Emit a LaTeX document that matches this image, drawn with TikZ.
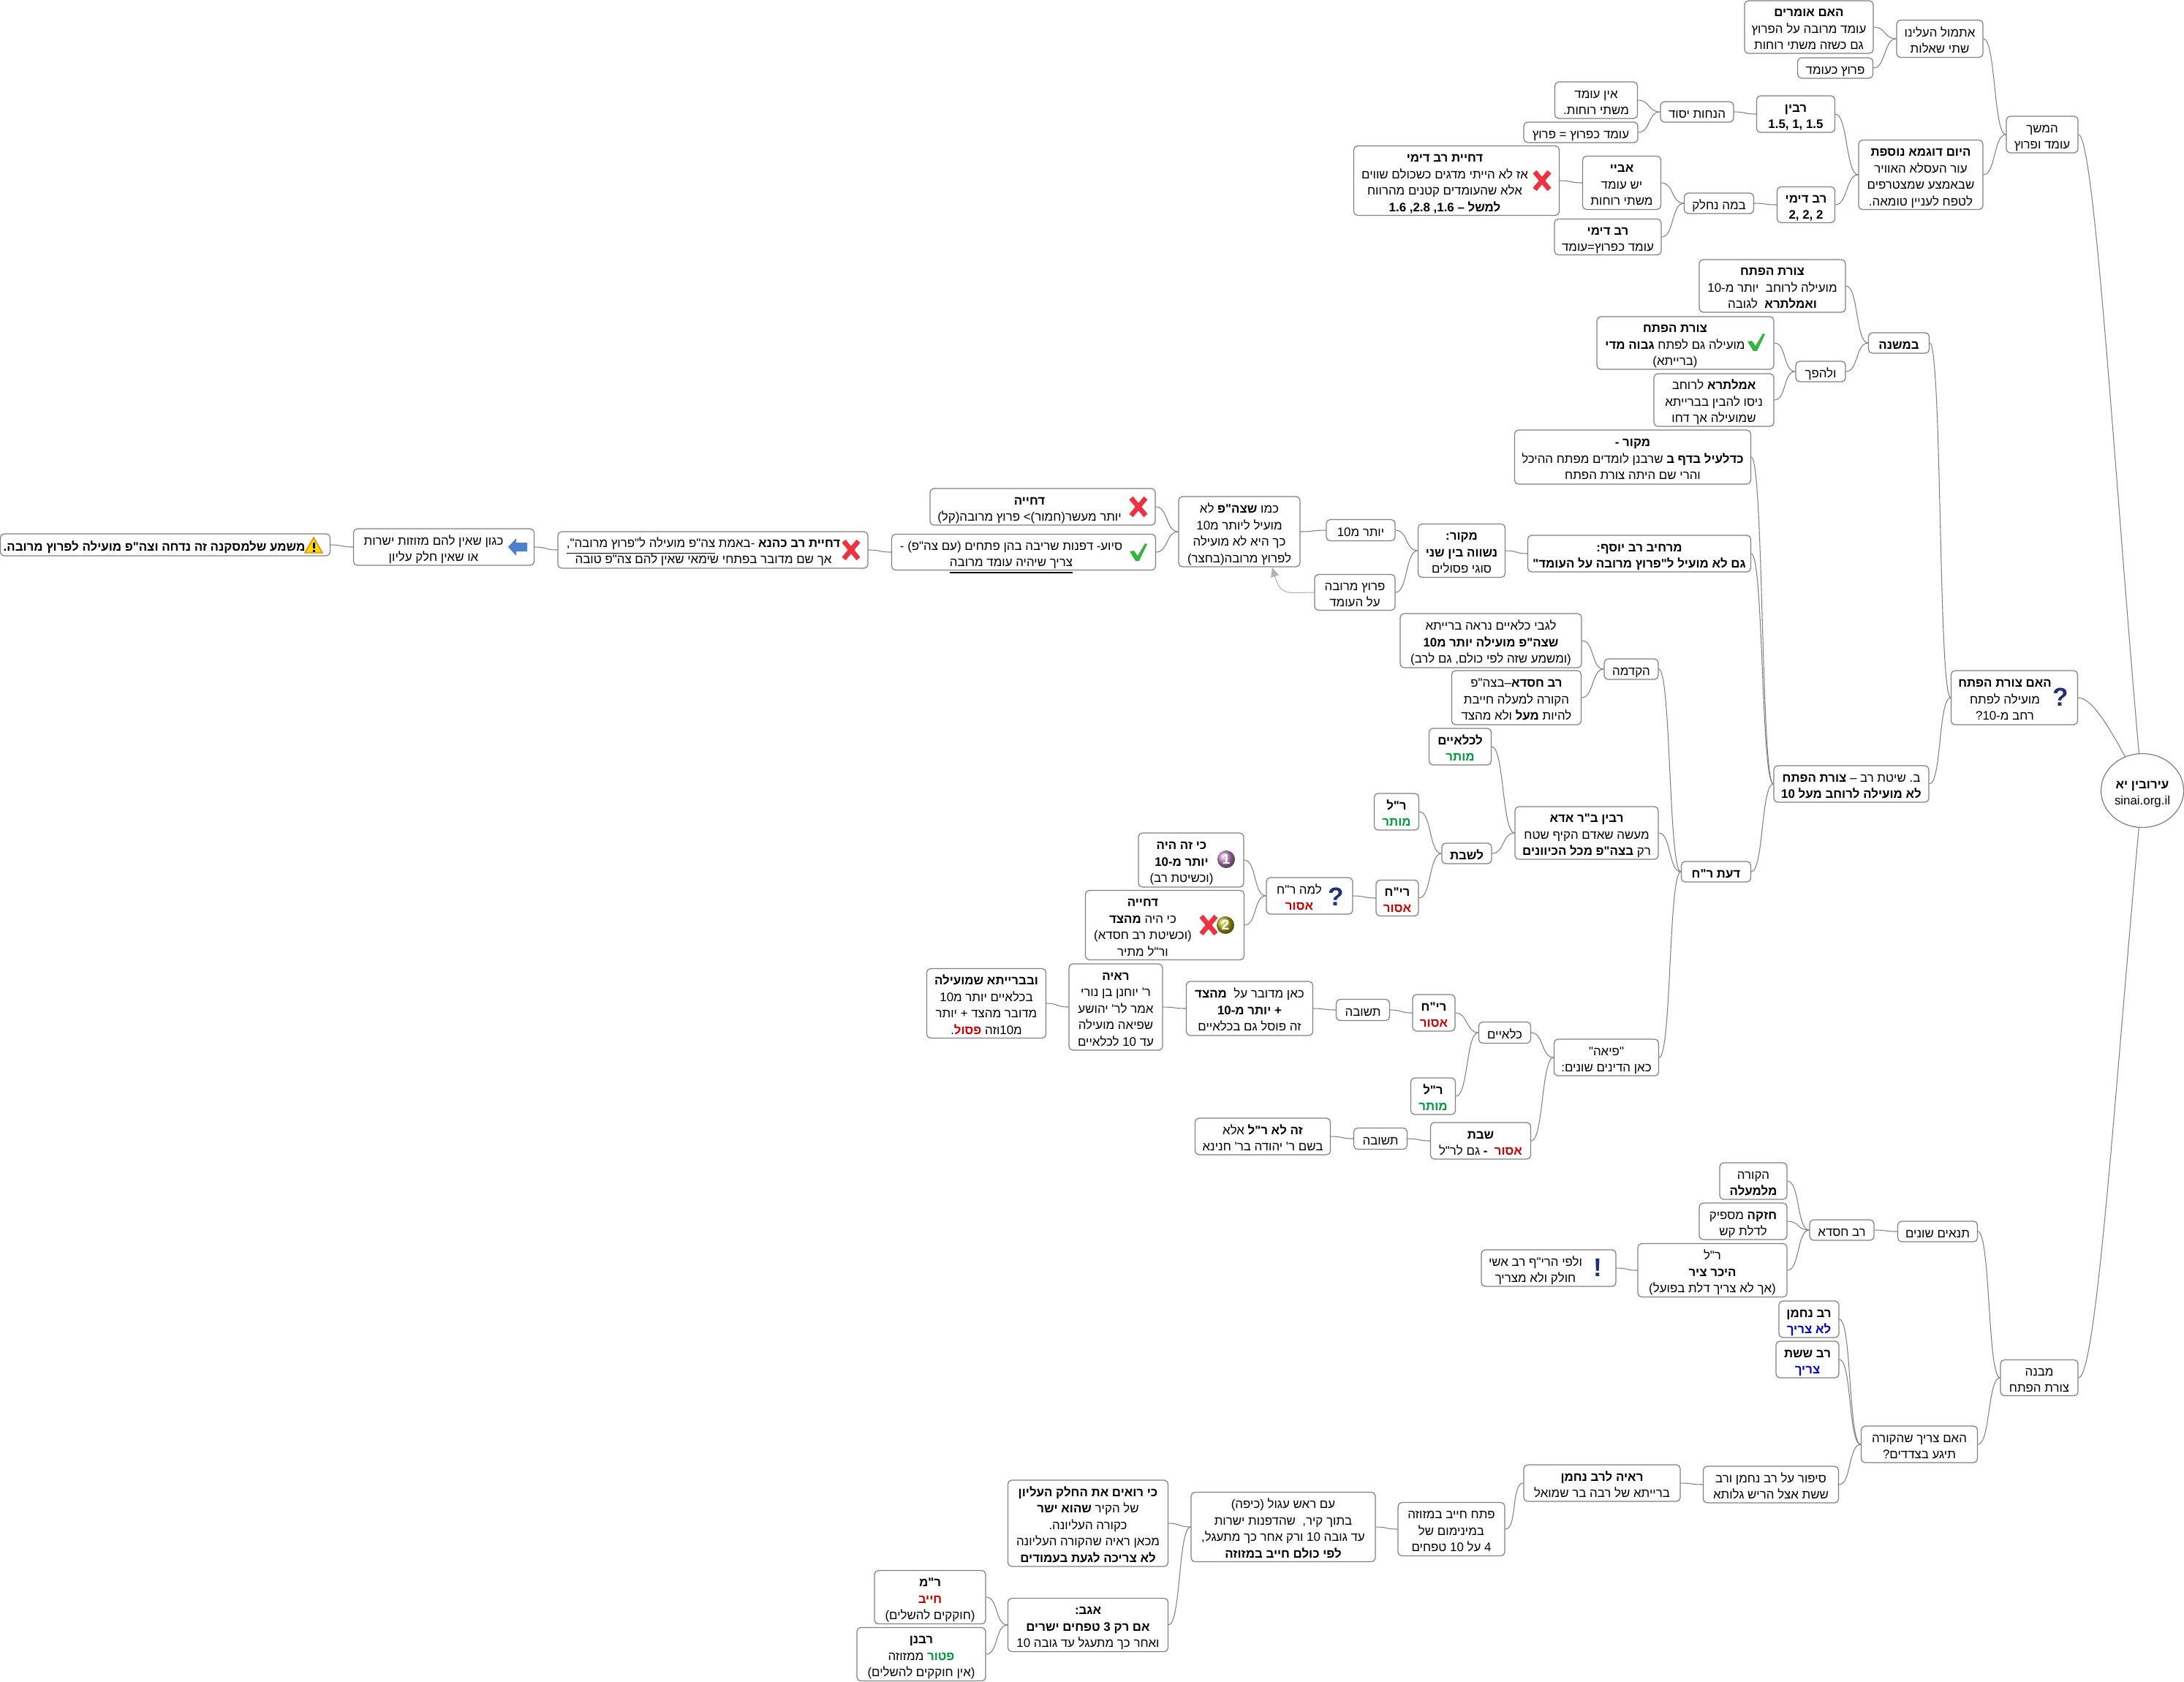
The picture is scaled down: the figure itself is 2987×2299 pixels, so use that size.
\documentclass[tikz,border=0pt]{standalone}
\usepackage{fontspec}
\usetikzlibrary{shapes.geometric,arrows.meta}
\newfontfamily\hebfont[Script=Hebrew]{Liberation Sans}
\newfontfamily\hebred[Script=Hebrew,Color=CC0000]{Liberation Sans}
\newfontfamily\hebgreen[Script=Hebrew,Color=009A3D]{Liberation Sans}
\newfontfamily\hebblue[Script=Hebrew,Color=0000CC]{Liberation Sans}
\TeXXeTstate=1
\frenchspacing
\newcommand{\heb}[1]{\rule[-1.4pt]{0pt}{5.6pt}\smash{\lower1pt\hbox{\beginR #1\endR}}}
\newcommand{\num}[1]{\beginL #1\endL}
\newcommand{\under}[1]{\underline{\beginR #1\endR}}
\newcommand{\tinted}[2]{{#1\bfseries #2}}
\definecolor{linegray}{HTML}{808080}
\definecolor{markblue}{HTML}{1F2F7A}
\definecolor{crossred}{HTML}{EE3340}
\definecolor{tickgreen}{HTML}{35B540}
\definecolor{arrowblue}{HTML}{4F7FD0}
\tikzset{
  plain/.style={inner sep=0pt,align=center,font=\hebfont\fontsize{4.8}{6.4}\selectfont},
  topic/.style={plain,draw=linegray,line width=0.35pt,rounded corners=1.5pt,fill=white},
  wh/.style 2 args={minimum width=#1*0.01cm,minimum height=#2*0.01cm},
  link/.style={draw=linegray,line width=0.3pt},
  sway/.style={out=0,in=180,distance=0.17cm},
  glyph/.style={inner sep=0pt,text=markblue,font=\hebfont\bfseries\fontsize{10}{10}\selectfont},
  numdisc/.style={circle,inner sep=0pt,minimum size=0.24cm,text=white,font=\hebfont\bfseries\fontsize{5.5}{5.5}\selectfont},
  pics/crossmark/.style={code={
    \draw[crossred,line width=1.9pt] (-10,-12) -- (10,12);
    \draw[crossred,line width=1.9pt] (10,-12) -- (-10,12);
  }},
  pics/tickmark/.style={code={
    \fill[tickgreen] (-12,-1) -- (-6,-2) -- (-1,5) -- (9,-12) -- (12,-11) -- (1,12) -- (-4,12) -- cycle;
  }},
  pics/backarrow/.style={code={
    \fill[arrowblue] (-13,0) -- (-2,-12) -- (-2,-6) -- (13,-6) -- (13,6) -- (-2,6) -- (-2,12) -- cycle;
  }},
  pics/warnmark/.style={code={
    \fill[yellow!80!orange,draw=orange,line width=0.4pt] (0,-11) -- (12,10) -- (-12,10) -- cycle;
    \fill (-1.5,-4) rectangle (1.5,4);
    \fill (-1.5,5.5) rectangle (1.5,8.5);
  }},
}
\begin{document}
\begin{tikzpicture}[x=0.01cm,y=-0.01cm]
    \path[use as bounding box] (0,0) rectangle (2987,2299);

    % Top branch
    \node[topic,wh={98}{50}] (hemshech) at (2793,184) {\heb{המשך}\\\heb{עומד ופרוץ}};
    \node[topic,wh={118}{51}] (atmol) at (2653,53) {\heb{אתמול העלינו}\\\heb{שתי שאלות}};
    \node[topic,wh={176}{72}] (haomrim) at (2474,37) {\heb{\textbf{האם אומרים}}\\\heb{עומד מרובה על הפרוץ}\\\heb{גם כשזה משתי רוחות}};
    \node[topic,wh={103}{28}] (prutzomed) at (2510,93) {\heb{פרוץ כעומד}};
    \node[topic,wh={170}{95}] (dugma) at (2627,239) {\heb{\textbf{היום דוגמא נוספת}}\\\heb{עור העסלא האוויר}\\\heb{שבאמצע שמצטרפים}\\\heb{לטפח לעניין טומאה.}};
    \node[topic,wh={107}{50}] (ravin) at (2456,156) {\heb{\textbf{רבין}}\\\heb{\textbf{\num{1.5\kern0pt, 1\kern0pt, 1.5}}}};
    \node[topic,wh={100}{28}] (hanachot) at (2321,153) {\heb{הנחות יסוד}};
    \node[topic,wh={113}{50}] (einomed) at (2183,137) {\heb{אין עומד}\\\heb{משתי רוחות.}};
    \node[topic,wh={156}{28}] (kefarutz) at (2162,181) {\heb{עומד כפרוץ = פרוץ}};
    \node[topic,wh={79}{49}] (ravdimi) at (2470,280) {\heb{\textbf{רב דימי}}\\\heb{\textbf{\num{2\kern0pt, 2\kern0pt, 2}}}};
    \node[topic,wh={95}{28}] (bamme) at (2351,278) {\heb{במה נחלק}};
    \node[topic,wh={107}{73}] (abaye) at (2218,250) {\heb{\textbf{אביי}}\\\heb{יש עומד}\\\heb{משתי רוחות}};
    \node[topic,wh={146}{49}] (dimiomed) at (2199,324) {\heb{\textbf{רב דימי}}\\\heb{עומד כפרוץ=עומד}};
    \node[topic,wh={281}{95}] (dimidecho) at (1992,247) {};
    \node[plain] (dimitext) at (1976,247) {\heb{\textbf{דחיית רב דימי}}\\\heb{אז לא הייתי מדגים כשכולם שווים}\\\heb{אלא שהעומדים קטנים מהרווח}\\\heb{\textbf{למשל – \num{1.6 ,\kern0pt 2.8 ,\kern0pt 1.6}}}};
    \pic at (2109,247) {crossmark};

    % Middle branch
    \node[topic,wh={173}{74}] (haim) at (2755,954) {};
    \node[plain] (haimtext) at (2742,954) {\heb{\textbf{האם צורת הפתח}}\\\heb{מועילה לפתח}\\\heb{רחב מ-\num{10}?}};
    \node[glyph] (haimask) at (2818,953) {?};
    \node[topic,wh={83}{28}] (mishna) at (2597,469) {\heb{\textbf{במשנה}}};
    \node[topic,wh={200}{72}] (tzura) at (2424,391) {\heb{\textbf{צורת הפתח}}\\\heb{מועילה לרוחב \ יותר מ-\num{10}}\\\heb{\textbf{ואמלתרא} \ לגובה}};
    \node[topic,wh={68}{28}] (lehefech) at (2490,508) {\heb{ולהפך}};
    \node[topic,wh={242}{72}] (tzuragavoha) at (2305,469) {};
    \node[plain] (tzuratext) at (2291,469) {\heb{\textbf{צורת הפתח}}\\\heb{מועילה גם לפתח \textbf{גבוה מדי}}\\\heb{(ברייתא)}};
    \pic at (2402,468) {tickmark};
    \node[topic,wh={164}{72}] (amaltra) at (2344,547) {\heb{\textbf{אמלתרא} לרוחב}\\\heb{ניסו להבין בברייתא}\\\heb{שמועילה אך דחו}};
    \node[topic,wh={212}{50}] (shitatrav) at (2532,1072) {\heb{ב. שיטת רב – \textbf{צורת הפתח}}\\\heb{\textbf{לא מועילה לרוחב מעל \num{10}}}};
    \node[topic,wh={323}{74}] (makor) at (2233,625) {\heb{\textbf{מקור -}}\\\heb{\textbf{כדלעיל בדף ב} שרבנן לומדים מפתח ההיכל}\\\heb{והרי שם היתה צורת הפתח}};
    \node[topic,wh={305}{50}] (yosef) at (2242,757) {\heb{\textbf{מרחיב רב יוסף:}}\\\heb{\textbf{גם לא מועיל ל"פרוץ מרובה על העומד"}}};
    \node[topic,wh={119}{73}] (nashve) at (1999,753) {\heb{\textbf{מקור:}}\\\heb{\textbf{נשווה בין שני}}\\\heb{סוגי פסולים}};
    \node[topic,wh={94}{29}] (yoter) at (1861,725) {\heb{יותר מ\num{10}}};
    \node[topic,wh={110}{49}] (prutz) at (1853,810) {\heb{פרוץ מרובה}\\\heb{על העומד}};
    \node[topic,wh={166}{96}] (kmo) at (1695,727) {\heb{כמו \textbf{שצה"פ} לא}\\\heb{מועיל ליותר מ\num{10}}\\\heb{כך היא לא מועילה}\\\heb{לפרוץ מרובה(בחצר)}};
    \node[topic,wh={308}{50}] (dechiya) at (1426,693) {};
    \node[plain] (dechiyatext) at (1408,693) {\heb{\textbf{דחייה}}\\\heb{יותר מעשר(חמור)> פרוץ מרובה(קל)}};
    \pic at (1557,693) {crossmark};
    \node[topic,wh={361}{49}] (siyua) at (1400,755) {};
    \node[plain] (siyuatext) at (1383,755) {\heb{סיוע- דפנות שריבה בהן פתחים (עם צה"פ) -}\\\heb{\under{צריך שיהיה עומד מרובה}}};
    \pic at (1557,755) {tickmark};
    \node[topic,wh={424}{50}] (kahana) at (975,752) {};
    \node[plain] (kahanatext) at (962,751) {\heb{\textbf{דחיית רב כהנא} -באמת \under{צה"פ מועילה ל"פרוץ מרובה",}}\\\heb{אך שם מדובר בפתחי שימאי שאין להם צה"פ טובה}};
    \pic at (1164,752) {crossmark};
    \node[topic,wh={247}{50}] (kegon) at (607,748) {};
    \node[plain] (kegontext) at (593,748) {\heb{כגון שאין להם מזוזות ישרות}\\\heb{או שאין חלק עליון}};
    \pic at (708,748) {backarrow};
    \node[topic,wh={451}{30}] (mashma) at (226,745) {};
    \node[plain] (mashmatext) at (211,745) {\heb{\textbf{משמע שלמסקנה זה נדחה וצה"פ מועילה לפרוץ מרובה.}}};
    \pic at (429,746) {warnmark};

    % Daat Rabbi Yochanan
    \node[topic,wh={95}{28}] (daat) at (2347,1192) {\heb{\textbf{דעת ר"ח}}};
    \node[topic,wh={74}{28}] (hakdama) at (2231,915) {\heb{הקדמה}};
    \node[topic,wh={248}{74}] (kilayim) at (2039,876) {\heb{לגבי כלאיים נראה ברייתא}\\\heb{\textbf{שצה"פ מועילה יותר מ\num{10}}}\\\heb{(ומשמע שזה לפי כולם, גם לרב)}};
    \node[topic,wh={177}{74}] (chisda) at (2074,954) {\heb{\textbf{רב חסדא}–בצה"פ}\\\heb{הקורה למעלה חייבת}\\\heb{להיות \textbf{מעל} ולא מהצד}};
    \node[topic,wh={196}{72}] (rabin) at (2170,1139) {\heb{\textbf{רבין ב"ר אדא}}\\\heb{מעשה שאדם הקיף שטח}\\\heb{רק \textbf{בצה"פ מכל הכיוונים}}};
    \node[topic,wh={85}{50}] (lekilayim) at (1997,1021) {\heb{\textbf{לכלאיים}}\\\heb{\tinted{\hebgreen}{מותר}}};
    \node[topic,wh={68}{28}] (leshabat) at (2006,1167) {\heb{\textbf{לשבת}}};
    \node[topic,wh={61}{50}] (reshlakish) at (1910,1110) {\heb{\textbf{ר"ל}}\\\heb{\tinted{\hebgreen}{מותר}}};
    \node[topic,wh={58}{49}] (rachasur) at (1911,1228) {\heb{\textbf{רי"ח}}\\\heb{\tinted{\hebred}{אסור}}};
    \node[topic,wh={118}{50}] (lama) at (1791,1225) {};
    \node[plain] (lamatext) at (1777,1225) {\heb{למה ר"ח}\\\heb{\tinted{\hebred}{אסור}}};
    \node[glyph] (lamaask) at (1827,1226) {?};
    \node[topic,wh={144}{74}] (kizeh) at (1629,1176) {};
    \node[plain] (kizehtext) at (1616,1176) {\heb{\textbf{כי זה היה}}\\\heb{\textbf{יותר מ-\num{10}}}\\\heb{(וכשיטת רב)}};
    \node[numdisc,ball color=violet!45!white] (discone) at (1677,1175) {1};
    \node[topic,wh={217}{95}] (dechiyatwo) at (1593,1265) {};
    \node[plain] (dechiyatwotext) at (1563,1265) {\heb{\textbf{דחייה}}\\\heb{כי היה \textbf{מהצד}}\\\heb{(וכשיטת רב חסדא)}\\\heb{ור"ל מתיר}};
    \pic at (1653,1265) {crossmark};
    \node[numdisc,ball color=olive!60!white] (disctwo) at (1676,1265) {2};
    \node[topic,wh={143}{50}] (pea) at (2197,1446) {\heb{"פיאה"}\\\heb{כאן הדינים שונים:}};
    \node[topic,wh={71}{29}] (klaim) at (2058,1412) {\heb{כלאיים}};
    \node[topic,wh={58}{50}] (richasur) at (1961,1385) {\heb{\textbf{רי"ח}}\\\heb{\tinted{\hebred}{אסור}}};
    \node[topic,wh={61}{50}] (reshmutar) at (1960,1499) {\heb{\textbf{ר"ל}}\\\heb{\tinted{\hebgreen}{מותר}}};
    \node[topic,wh={73}{29}] (teshuva) at (1864,1381) {\heb{תשובה}};
    \node[topic,wh={173}{74}] (kan) at (1709,1379) {\heb{כאן מדובר על \ \textbf{מהצד}}\\\heb{\textbf{+ יותר מ-\num{10}}}\\\heb{זה פוסל גם בכלאיים}};
    \node[topic,wh={128}{118}] (raaya) at (1526,1377) {\heb{\textbf{ראיה}}\\\heb{ר' יוחנן בן נורי}\\\heb{אמר לר' יהושע}\\\heb{שפיאה מועילה}\\\heb{עד \num{10} לכלאיים}};
    \node[topic,wh={163}{95}] (baraita) at (1349,1372) {\heb{\textbf{ובברייתא שמועילה}}\\\heb{בכלאיים יותר מ\num{10}}\\\heb{מדובר מהצד + יותר}\\\heb{מ\num{10}וזה \tinted{\hebred}{פסול}.}};
    \node[topic,wh={137}{50}] (shabat) at (2025,1560) {\heb{\textbf{שבת}}\\\heb{\tinted{\hebred}{אסור} \ \textbf{-} גם לר"ל}};
    \node[topic,wh={73}{29}] (teshuvatwo) at (1888,1557) {\heb{תשובה}};
    \node[topic,wh={185}{50}] (zelo) at (1727,1554) {\heb{\textbf{זה לא ר"ל} אלא}\\\heb{בשם ר' יהודה בר' חנינא}};

    % Bottom branch
    \node[topic,wh={106}{49}] (mivne) at (2789,1884) {\heb{מבנה}\\\heb{צורת הפתח}};
    \node[topic,wh={109}{28}] (tanaim) at (2650,1684) {\heb{תנאים שונים}};
    \node[topic,wh={88}{28}] (ravchisda) at (2519,1682) {\heb{רב חסדא}};
    \node[topic,wh={92}{50}] (hakora) at (2398,1615) {\heb{הקורה}\\\heb{\textbf{מלמעלה}}};
    \node[topic,wh={120}{50}] (chazaka) at (2384,1670) {\heb{\textbf{חזקה} מספיק}\\\heb{לדלת קש}};
    \node[topic,wh={204}{73}] (heker) at (2342,1737) {\heb{ר"ל}\\\heb{\textbf{היכר ציר}}\\\heb{(אך לא צריך דלת בפועל)}};
    \node[topic,wh={184}{50}] (harif) at (2118,1734) {};
    \node[plain] (hariftext) at (2100,1734) {\heb{ולפי הרי"ף רב אשי}\\\heb{חולק ולא מצריך}};
    \node[glyph] (harifmark) at (2185,1733) {!};
    \node[topic,wh={159}{50}] (tzarich) at (2625,1975) {\heb{האם צריך שהקורה}\\\heb{תיגע בצדדים?}};
    \node[topic,wh={82}{50}] (nachman) at (2474,1804) {\heb{\textbf{רב נחמן}}\\\heb{\tinted{\hebblue}{לא צריך}}};
    \node[topic,wh={86}{50}] (sheshet) at (2472,1859) {\heb{\textbf{רב ששת}}\\\heb{\tinted{\hebblue}{צריך}}};
    \node[topic,wh={185}{50}] (sipur) at (2422,2030) {\heb{סיפור על רב נחמן ורב}\\\heb{ששת אצל הריש גלותא}};
    \node[topic,wh={214}{50}] (raayanachman) at (2191,2028) {\heb{\textbf{ראיה לרב נחמן}}\\\heb{ברייתא של רבה בר שמואל}};
    \node[topic,wh={146}{73}] (petach) at (1985,2091) {\heb{פתח חייב במזוזה}\\\heb{במינימום של}\\\heb{4 על \num{10} טפחים}};
    \node[topic,wh={252}{95}] (rosh) at (1755,2088) {\heb{עם ראש עגול (כיפה)}\\\heb{בתוך קיר, \ שהדפנות ישרות}\\\heb{עד גובה \num{10} ורק אחר כך מתעגל,}\\\heb{\textbf{לפי כולם חייב במזוזה}}};
    \node[topic,wh={219}{118}] (roim) at (1488,2083) {\heb{\textbf{כי רואים את החלק העליון}}\\\heb{של הקיר \textbf{שהוא ישר}}\\\heb{כקורה העליונה.}\\\heb{מכאן ראיה שהקורה העליונה}\\\heb{\textbf{לא צריכה לגעת בעמודים}}};
    \node[topic,wh={219}{73}] (agav) at (1488,2222) {\heb{\textbf{אגב:}}\\\heb{\textbf{אם רק \num{3} טפחים ישרים}}\\\heb{ואחר כך מתעגל עד גובה \num{10}}};
    \node[topic,wh={152}{73}] (rabimeir) at (1272,2184) {\heb{\textbf{ר"מ}}\\\heb{\tinted{\hebred}{חייב}}\\\heb{(חוקקים להשלים)}};
    \node[topic,wh={176}{73}] (rabanan) at (1260,2262) {\heb{\textbf{רבנן}}\\\heb{\tinted{\hebgreen}{פטור} ממזוזה}\\\heb{(אין חוקקים להשלים)}};

    % Links
    \draw[link] (atmol.east) to[sway] (hemshech.west);
    \draw[link] (dugma.east) to[sway] (hemshech.west);
    \draw[link] (haomrim.east) to[sway] (atmol.west);
    \draw[link] (prutzomed.east) to[sway] (atmol.west);
    \draw[link] (ravin.east) to[sway] (dugma.west);
    \draw[link] (ravdimi.east) to[sway] (dugma.west);
    \draw[link] (hanachot.east) to[sway] (ravin.west);
    \draw[link] (einomed.east) to[sway] (hanachot.west);
    \draw[link] (kefarutz.east) to[sway] (hanachot.west);
    \draw[link] (bamme.east) to[sway] (ravdimi.west);
    \draw[link] (abaye.east) to[sway] (bamme.west);
    \draw[link] (dimiomed.east) to[sway] (bamme.west);
    \draw[link] (dimidecho.east) to[sway] (abaye.west);
    \draw[link] (mishna.east) to[sway] (haim.west);
    \draw[link] (shitatrav.east) to[sway] (haim.west);
    \draw[link] (tzura.east) to[sway] (mishna.west);
    \draw[link] (lehefech.east) to[sway] (mishna.west);
    \draw[link] (tzuragavoha.east) to[sway] (lehefech.west);
    \draw[link] (amaltra.east) to[sway] (lehefech.west);
    \draw[link] (makor.east) to[sway] (shitatrav.west);
    \draw[link] (yosef.east) to[sway] (shitatrav.west);
    \draw[link] (daat.east) to[sway] (shitatrav.west);
    \draw[link] (nashve.east) to[sway] (yosef.west);
    \draw[link] (yoter.east) to[sway] (nashve.west);
    \draw[link] (prutz.east) to[sway] (nashve.west);
    \draw[link] (kmo.east) to[sway] (yoter.west);
    \draw[link] (dechiya.east) to[sway] (kmo.west);
    \draw[link] (siyua.east) to[sway] (kmo.west);
    \draw[link] (kahana.east) to[sway] (siyua.west);
    \draw[link] (kegon.east) to[sway] (kahana.west);
    \draw[link] (mashma.east) to[sway] (kegon.west);
    \draw[link] (hakdama.east) to[sway] (daat.west);
    \draw[link] (rabin.east) to[sway] (daat.west);
    \draw[link] (pea.east) to[sway] (daat.west);
    \draw[link] (kilayim.east) to[sway] (hakdama.west);
    \draw[link] (chisda.east) to[sway] (hakdama.west);
    \draw[link] (lekilayim.east) to[sway] (rabin.west);
    \draw[link] (leshabat.east) to[sway] (rabin.west);
    \draw[link] (reshlakish.east) to[sway] (leshabat.west);
    \draw[link] (rachasur.east) to[sway] (leshabat.west);
    \draw[link] (lama.east) to[sway] (rachasur.west);
    \draw[link] (kizeh.east) to[sway] (lama.west);
    \draw[link] (dechiyatwo.east) to[sway] (lama.west);
    \draw[link] (klaim.east) to[sway] (pea.west);
    \draw[link] (shabat.east) to[sway] (pea.west);
    \draw[link] (richasur.east) to[sway] (klaim.west);
    \draw[link] (reshmutar.east) to[sway] (klaim.west);
    \draw[link] (teshuva.east) to[sway] (richasur.west);
    \draw[link] (kan.east) to[sway] (teshuva.west);
    \draw[link] (raaya.east) to[sway] (kan.west);
    \draw[link] (baraita.east) to[sway] (raaya.west);
    \draw[link] (teshuvatwo.east) to[sway] (shabat.west);
    \draw[link] (zelo.east) to[sway] (teshuvatwo.west);
    \draw[link] (tanaim.east) to[sway] (mivne.west);
    \draw[link] (tzarich.east) to[sway] (mivne.west);
    \draw[link] (ravchisda.east) to[sway] (tanaim.west);
    \draw[link] (hakora.east) to[sway] (ravchisda.west);
    \draw[link] (chazaka.east) to[sway] (ravchisda.west);
    \draw[link] (heker.east) to[sway] (ravchisda.west);
    \draw[link] (harif.east) to[sway] (heker.west);
    \draw[link] (nachman.east) to[sway] (tzarich.west);
    \draw[link] (sheshet.east) to[sway] (tzarich.west);
    \draw[link] (sipur.east) to[sway] (tzarich.west);
    \draw[link] (raayanachman.east) to[sway] (sipur.west);
    \draw[link] (petach.east) to[sway] (raayanachman.west);
    \draw[link] (rosh.east) to[sway] (petach.west);
    \draw[link] (roim.east) to[sway] (rosh.west);
    \draw[link] (agav.east) to[sway] (rosh.west);
    \draw[link] (rabimeir.east) to[sway] (agav.west);
    \draw[link] (rabanan.east) to[sway] (agav.west);

    % Back arrow
    \coordinate (kmotip) at (1740,776);
    \draw[draw=gray!60,line width=0.3pt,-{Triangle[length=3.6pt,width=3.2pt,fill=gray!60]}] (prutz.west) .. controls +(-35,0) and +(12,40) .. (kmotip);

    % Root
    \coordinate (rootmid) at (2930,1081);
    \draw[link] (hemshech.east) .. controls +(23,0) and (2895,700) .. (rootmid);
    \draw[link] (haim.east) .. controls +(20,0) and (2890,1000) .. (rootmid);
    \draw[link] (mivne.east) .. controls +(26,0) and (2895,1450) .. (rootmid);
    \node[topic,ellipse,wh={113}{101},line width=0.35pt] (root) at (rootmid) {\heb{\textbf{עירובין יא}}\\\heb{\num{sinai.org.il}}};
  \end{tikzpicture}
\end{document}
